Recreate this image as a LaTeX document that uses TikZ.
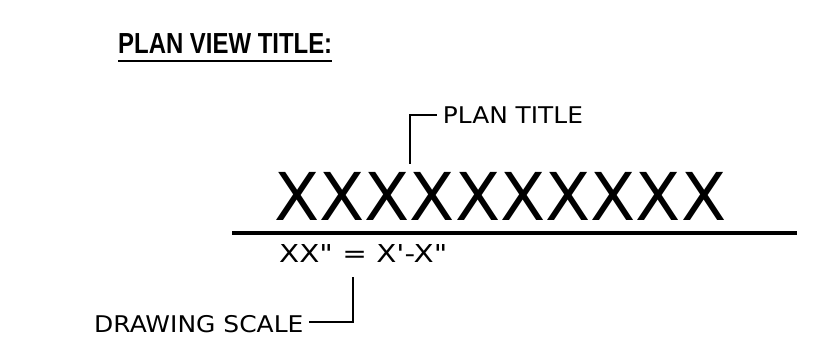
\documentclass[tikz,border=0pt]{standalone}
\usepackage{fontspec}
\usepackage{graphicx}
% straight quotes are wanted, so the TeX ligature mapping is switched off
\setmainfont{DejaVu Sans}[Ligatures=TeXOff]
\newfontfamily\titlefont{Liberation Sans}[Ligatures=TeXOff]
\begin{document}
\begin{tikzpicture}[x=1pt,y=-1pt,
  labeltext/.style={anchor=base west, inner sep=0pt, font=\fontsize{23}{23}\selectfont},
  leader/.style={line width=1.6pt},
]
\useasboundingbox[fill=white] (0,0) rectangle (830,346);

% heading with underline
\node[anchor=base west, inner sep=0pt, font=\titlefont\bfseries\fontsize{29}{29}\selectfont]
  (title) at (118,53.3) {\scalebox{0.825}[1]{PLAN VIEW TITLE:}};
\draw[line width=2pt] ([yshift=-7.5pt]title.base west) -- ([yshift=-7.5pt]title.base east);

% plan title placeholder and the rule under it
\node[anchor=base west, inner sep=0pt, font=\fontsize{66}{66}\selectfont]
  (plantitle) at (274,220.7) {XXXXXXXXXX};
\coordinate (ruleL) at (232,232.5);
\coordinate (ruleR) at (797,232.5);
\draw[line width=4pt] (ruleL) -- (ruleR);

% drawing scale placeholder
\node[anchor=base west, inner sep=0pt, font=\fontsize{24.7}{24.7}\selectfont]
  (scale) at (279,262) {\scalebox{1.19}[1]{XX" = X'-X"}};

% callout labels
\node[labeltext] (lblplan) at (442.7,123.3) {\scalebox{1.08}[1]{PLAN TITLE}};
\node[labeltext] (lblscale) at (94,332.3) {\scalebox{1.085}[1]{DRAWING SCALE}};

% leaders
\coordinate (planfoot) at (410,163.5);
\coordinate (scalefoot) at (353,277);
\draw[leader] (planfoot) |- ([xshift=-5.7pt]lblplan.west);
\draw[leader] (scalefoot) |- ([xshift=5.5pt,yshift=2pt]lblscale.east);
\end{tikzpicture}
\end{document}
